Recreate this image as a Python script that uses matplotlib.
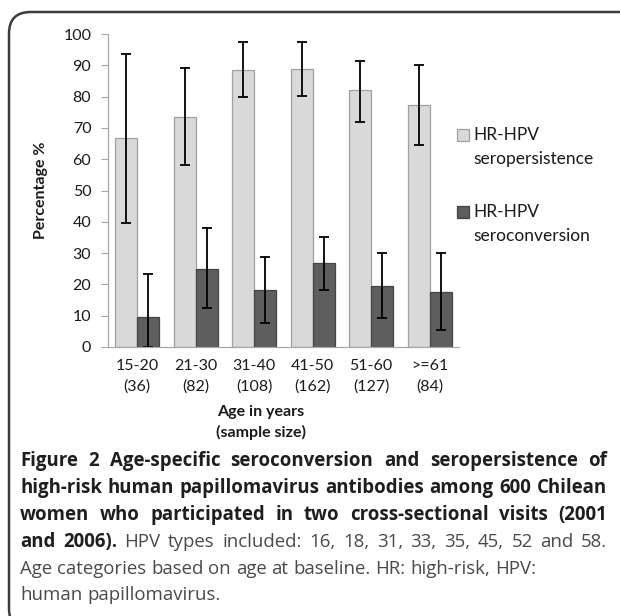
import numpy as np
import matplotlib
matplotlib.use("Agg")
import matplotlib.pyplot as plt
from matplotlib.patches import FancyBboxPatch, Rectangle

# data
groups = ["15-20\n(36)", "21-30\n(82)", "31-40\n(108)", "41-50\n(162)", "51-60\n(127)", ">=61\n(84)"]
persist = [66.7, 73.5, 88.5, 88.9, 82.0, 77.4]
persist_lo = [39.5, 58.0, 79.8, 80.3, 72.0, 64.5]
persist_hi = [93.7, 89.1, 97.5, 97.5, 91.4, 90.2]
convert = [9.5, 25.0, 18.1, 26.7, 19.6, 17.6]
convert_lo = [0.0, 12.4, 7.6, 18.2, 9.4, 5.3]
convert_hi = [23.3, 37.9, 28.6, 35.2, 29.9, 29.9]
legend_labels = ["HR-HPV\nseropersistence", "HR-HPV\nseroconversion"]

caption = [
    ([("Figure 2 Age-specific seroconversion and seropersistence of", "bold")], True),
    ([("high-risk human papillomavirus antibodies among 600 Chilean", "bold")], True),
    ([("women who participated in two cross-sectional visits (2001", "bold")], True),
    ([("and 2006).", "bold"), ("HPV types included: 16, 18, 31, 33, 35, 45, 52 and 58.", "normal")], True),
    ([("Age categories based on age at baseline. HR: high-risk, HPV:", "normal")], False),
    ([("human papillomavirus.", "normal")], False),
]

W, H = 620, 616
fig = plt.figure(figsize=(W / 100, H / 100), dpi=100)

def px(x, y):
    # pixel coords (top-left origin) -> figure fraction
    return x / W, 1 - y / H

# outer rounded frame (right and bottom sides run off the image)
frame = FancyBboxPatch(px(9, 630), (660 - 9) / W, (630 - 12) / H,
                       boxstyle="round,pad=0,rounding_size=0.035",
                       transform=fig.transFigure, fill=False,
                       edgecolor="#3c3c3c", linewidth=1.8, clip_on=False)
fig.patches.append(frame)

ax = fig.add_axes([108 / W, 1 - 347 / H, (459 - 108) / W, (347 - 34) / H])

x = np.arange(len(groups))
bw = 0.375
p = np.array(persist)
c = np.array(convert)
err_p = [p - np.array(persist_lo), np.array(persist_hi) - p]
err_c = [c - np.array(convert_lo), np.array(convert_hi) - c]

ekw = dict(ecolor="black", elinewidth=1.3, capsize=3.5, capthick=1.3)
ax.bar(x - bw / 2, p, bw, color="#d9d9d9", edgecolor="#a0a0a0", linewidth=0.9, yerr=err_p, error_kw=ekw)
ax.bar(x + bw / 2, c, bw, color="#5e5e5e", edgecolor="#444444", linewidth=0.9, yerr=err_c, error_kw=ekw)

txt_col = "#1a1a1a"
ax.set_xlim(-0.5, len(groups) - 0.5)
ax.set_ylim(0, 100)
ax.set_yticks(range(0, 101, 10))
ax.set_xticks(x)
ax.set_xticklabels(groups, fontsize=11.5, family="Lato", color=txt_col, linespacing=1.5)
for lab in ax.get_yticklabels():
    lab.set_fontsize(11.5)
    lab.set_family("Lato")
    lab.set_color(txt_col)
ax.tick_params(axis="y", length=5, width=0.8, color="#a8a8a8", pad=7)
ax.tick_params(axis="x", length=0, pad=9)
for s in ["top", "right"]:
    ax.spines[s].set_visible(False)
for s in ["left", "bottom"]:
    ax.spines[s].set_color("#a8a8a8")
    ax.spines[s].set_linewidth(0.9)

fig.text(*px(41, 190), "Percentage %", rotation=90, ha="center", va="center",
         fontsize=11.5, fontweight="bold", family="Lato", color=txt_col)
fig.text(*px(261, 412), "Age in years", ha="center", va="center",
         fontsize=11.5, fontweight="bold", family="Lato", color=txt_col)
fig.text(*px(261, 432), "(sample size)", ha="center", va="center",
         fontsize=11.5, fontweight="bold", family="Lato", color=txt_col)

# legend drawn by hand so the swatch sits on the first label line
sw_colors = [("#d9d9d9", "#a0a0a0"), ("#5e5e5e", "#444444")]
for (fc, ec), lab, yc in zip(sw_colors, legend_labels, [135, 212]):
    fig.patches.append(Rectangle(px(457, yc + 6), 12 / W, 12 / H, transform=fig.transFigure,
                                 facecolor=fc, edgecolor=ec, linewidth=0.9))
    l1, l2 = lab.split("\n")
    fig.text(*px(473, yc), l1, ha="left", va="center", fontsize=12.5, family="Lato", color=txt_col)
    fig.text(*px(473, yc + 24), l2, ha="left", va="center", fontsize=12.5, family="Lato", color=txt_col)

# caption, justified like the journal layout
renderer = fig.canvas.get_renderer()
cap_font = "Open Sans"
x0, x1 = 20, 607

nat = []
for parts, _ in caption[:2]:
    probe = fig.text(0, 0, parts[0][0], fontsize=10, fontweight="bold", family=cap_font)
    nat.append(probe.get_window_extent(renderer).width)
    probe.remove()
cap_size = 10 * 582 / max(nat)

line_y = [461, 488, 515, 542, 569, 595]
for (parts, justify), yc in zip(caption, line_y):
    words = []
    for txt, wt in parts:
        for wd in txt.split(" "):
            words.append((wd, wt))
    objs = []
    widths = []
    for wd, wt in words:
        col = "#1e1e1e" if wt == "bold" else "#4a4a4a"
        t = fig.text(0, 1 - yc / H, wd, fontsize=cap_size, fontweight=wt, family=cap_font,
                     color=col, va="center", ha="left")
        objs.append(t)
        widths.append(t.get_window_extent(renderer).width)
    sp = fig.text(0, 0, "a b", fontsize=cap_size, family=cap_font)
    sp2 = fig.text(0, 0, "ab", fontsize=cap_size, family=cap_font)
    space = sp.get_window_extent(renderer).width - sp2.get_window_extent(renderer).width
    sp.remove()
    sp2.remove()
    if justify and len(objs) > 1:
        gap = (x1 - x0 - sum(widths)) / (len(objs) - 1)
    else:
        gap = space
    xc = x0
    for t, w in zip(objs, widths):
        t.set_x(xc / W)
        xc += w + gap

fig.savefig("out.png", dpi=100)
